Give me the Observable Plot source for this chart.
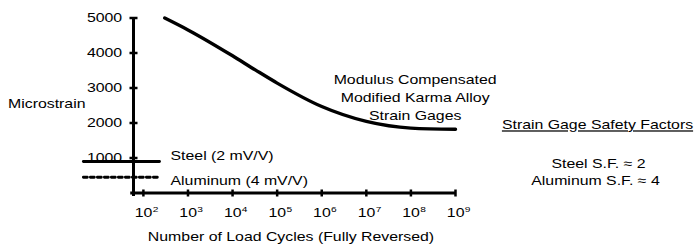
<!DOCTYPE html>
<html>
<head>
<meta charset="utf-8">
<script src="https://cdn.jsdelivr.net/npm/d3@7"></script>
<script src="https://cdn.jsdelivr.net/npm/@observablehq/plot@0.6"></script>
<style>
  html, body { margin: 0; padding: 0; background: #fff; }
  #chart svg { display: block; }
</style>
</head>
<body>
<div id="chart"></div>
<script>
// ---- data ----
const karmaCycles = [300, 1000, 1e4, 3.3e4, 1e5, 1e6, 1e7, 1e8, 1e9];
const karmaStrain = [5000, 4660, 3920, 3510, 3140, 2470, 2045, 1855, 1820];
const limitCycles = [4.5, 230];
const steelLimit = 900;
const aluminumLimit = 450;
const yTicks = [1000, 2000, 3000, 4000, 5000];
const xTickExponents = [2, 3, 4, 5, 6, 7, 8, 9];
const xTicks = xTickExponents.map(e => Math.pow(10, e));
const yLabel = "Microstrain";
const xLabel = "Number of Load Cycles (Fully Reversed)";
const curveLabel = "Modulus Compensated\nModified Karma Alloy\nStrain Gages";
const steelLabel = "Steel (2 mV/V)";
const aluminumLabel = "Aluminum (4 mV/V)";
const safetyTitle = "Strain Gage Safety Factors";
const steelSF = "Steel S.F. \u2248 2";
const aluminumSF = "Aluminum S.F. \u2248 4";

const karma = karmaCycles.map((c, i) => ({cycles: c, strain: karmaStrain[i]}));
const steel = limitCycles.map(c => ({cycles: c, strain: steelLimit}));
const aluminum = limitCycles.map(c => ({cycles: c, strain: aluminumLimit}));

const FS = 12.5;
const xMin = 60, xMax = 1e9;

// tick glyphs as custom symbols (crossing the axis line)
const hTick = {draw(ctx) { ctx.moveTo(-4, 0); ctx.lineTo(4, 0); }};
const vTick = {draw(ctx) { ctx.moveTo(0, -3.5); ctx.lineTo(0, 3.5); }};

const svg = Plot.plot({
  width: 695,
  height: 246,
  marginLeft: 133,
  marginRight: 240,
  marginTop: 17.5,
  marginBottom: 53.5,
  style: {fontFamily: "'Liberation Sans', Arial, sans-serif", fontSize: FS + "px", background: "#fff", color: "#000", overflow: "visible"},
  x: {type: "log", domain: [xMin, xMax], axis: null},
  y: {domain: [0, 5000], axis: null},
  marks: [
    // axis lines
    Plot.ruleX([xMin], {y1: -100, y2: 5000, stroke: "#000", strokeWidth: 3}),
    Plot.ruleY([0], {x1: 52, x2: xMax, stroke: "#000", strokeWidth: 3}),
    // y ticks & labels
    Plot.dot(yTicks, {x: xMin, y: d => d, symbol: hTick, r: 4, fill: "none", stroke: "#000", strokeWidth: 2.5}),
    Plot.text(yTicks, {x: xMin, y: d => d, text: d => String(d), textAnchor: "end", lineAnchor: "middle", dx: -11.3, fontSize: FS, fill: "#000"}),
    // x ticks & labels
    Plot.dot(xTicks, {x: d => d, y: 0, symbol: vTick, r: 4, fill: "none", stroke: "#000", strokeWidth: 2.5}),
    Plot.text(xTicks, {x: d => d, frameAnchor: "bottom", text: () => "10", textAnchor: "end", lineAnchor: "middle", dx: 9, dy: 20.4, fontSize: FS, fill: "#000"}),
    Plot.text(xTickExponents, {x: e => Math.pow(10, e), frameAnchor: "bottom", text: e => String(e), textAnchor: "start", lineAnchor: "middle", dx: 9.3, dy: 16, fontSize: 8, fill: "#000"}),
    // axis titles
    Plot.text([yLabel], {frameAnchor: "left", textAnchor: "end", lineAnchor: "middle", dx: -48, dy: -1.2, fontSize: FS, fill: "#000"}),
    Plot.text([xLabel], {frameAnchor: "bottom", textAnchor: "middle", lineAnchor: "middle", dx: -3.5, dy: 44.2, fontSize: FS, fill: "#000"}),
    // data lines
    Plot.line(karma, {x: "cycles", y: "strain", curve: "monotone-x", stroke: "#000", strokeWidth: 3.4}),
    Plot.line(steel, {x: "cycles", y: "strain", stroke: "#000", strokeWidth: 2.8}),
    Plot.line(aluminum, {x: "cycles", y: "strain", stroke: "#000", strokeWidth: 2.8, strokeDasharray: "4,3"}),
    // labels
    Plot.text([steelLabel], {x: limitCycles[1], y: steelLimit, textAnchor: "start", lineAnchor: "middle", dx: 11, dy: -6, fontSize: FS, fill: "#000"}),
    Plot.text([aluminumLabel], {x: limitCycles[1], y: aluminumLimit, textAnchor: "start", lineAnchor: "middle", dx: 11, dy: 3.5, fontSize: FS, fill: "#000"}),
    Plot.text([curveLabel], {x: 1.245e8, y: 2763, textAnchor: "middle", lineAnchor: "middle", lineHeight: 1.44, fontSize: FS, fill: "#000"}),
    // safety factor panel
    Plot.text([safetyTitle], {frameAnchor: "right", y: 1929, textAnchor: "middle", lineAnchor: "middle", dx: 142, fontSize: FS, fill: "#000"}),
    Plot.text([steelSF], {frameAnchor: "right", y: 843, textAnchor: "middle", lineAnchor: "middle", dx: 143, fontSize: FS, fill: "#000"}),
    Plot.text([aluminumSF], {frameAnchor: "right", y: 337, textAnchor: "middle", lineAnchor: "middle", dx: 140, fontSize: FS, fill: "#000"})
  ]
});

// widen glyphs horizontally to match the reference's stretched lettering
const SX = 1.27;
svg.querySelectorAll("text").forEach(t => {
  const tr = t.getAttribute("transform");
  if (tr) {
    t.setAttribute("transform", tr + ` scale(${SX},1)`);
  } else {
    const x = +(t.getAttribute("x") || 0), y = +(t.getAttribute("y") || 0);
    t.removeAttribute("x"); t.removeAttribute("y");
    t.setAttribute("transform", `translate(${x},${y}) scale(${SX},1)`);
  }
  if (t.textContent === safetyTitle) t.style.textDecoration = "underline";
});

document.getElementById("chart").appendChild(svg);
</script>
</body>
</html>
